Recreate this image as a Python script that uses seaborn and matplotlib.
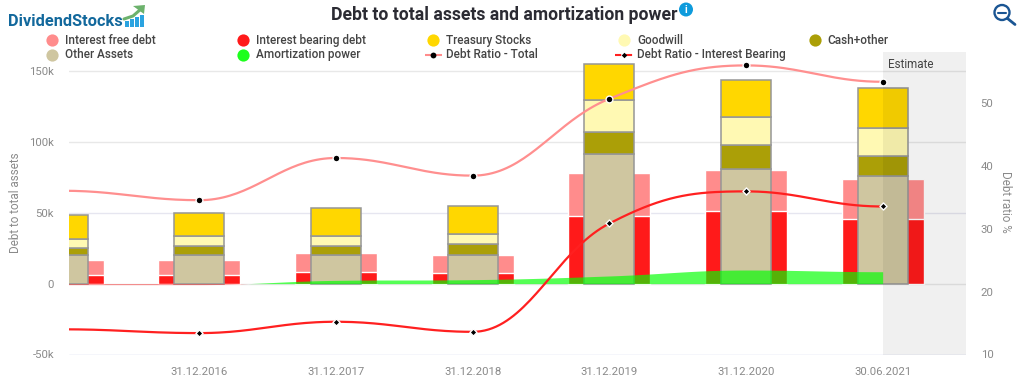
import numpy as np
import seaborn as sns
import matplotlib.pyplot as plt
from matplotlib.lines import Line2D
from matplotlib.patches import Circle, Polygon, Rectangle

dates = ["31.12.2015", "31.12.2016", "31.12.2017", "31.12.2018", "31.12.2019", "31.12.2020", "30.06.2021"]

# all in thousands
interest_free = [10.6, 10.7, 13.8, 13.2, 30.3, 29.1, 27.7]
interest_bearing = [6.3, 6.3, 8.0, 7.2, 47.4, 51.2, 45.8]
other_assets = [20.5, 20.3, 20.0, 20.0, 91.5, 81.0, 75.6]
cash_other = [4.4, 6.4, 6.8, 8.2, 15.8, 16.7, 14.5]
goodwill = [6.6, 7.0, 7.0, 7.0, 22.0, 19.9, 19.9]
treasury = [16.9, 16.2, 19.2, 19.3, 25.7, 26.1, 28.3]
amortization = [-0.7, -0.7, 2.3, 2.8, 5.4, 9.6, 8.4]

# percent
ratio_total = [36.0, 34.5, 41.2, 38.4, 50.6, 55.9, 53.3]
ratio_bearing = [14.0, 13.4, 15.2, 13.6, 30.8, 35.9, 33.5]

left_ticks = [-50, 0, 50, 100, 150]
left_labels = ["-50k", "0", "50k", "100k", "150k"]
right_ticks = [10, 20, 30, 40, 50]

C_FREE = "#ff8c8c"
C_BEARING = "#ff1a1a"
C_TREASURY = "#ffd700"
C_GOODWILL = "#fff9b3"
C_CASH = "#ab9f07"
C_OTHER = "#cfc6a0"
C_GREEN = "#00ff00"
GREY = "#8a8a8a"
XLIM = (0.043, 6.61)


def spline(y, n=40):
    # same bezier recipe the original chart lib uses (smoothing 1.5)
    y = np.asarray(y, dtype=float)
    xs, ys = [], []
    ctrl = []
    for i in range(len(y)):
        if i == 0 or i == len(y) - 1:
            ctrl.append((y[i], y[i]))
            continue
        l = (1.5 * y[i] + y[i - 1]) / 2.5
        r = (1.5 * y[i] + y[i + 1]) / 2.5
        c = (r - l) * 0.4 / 0.8 + y[i] - r
        l, r = l + c, r + c
        if l > max(y[i - 1], y[i]):
            l = max(y[i - 1], y[i])
            r = 2 * y[i] - l
        elif l < min(y[i - 1], y[i]):
            l = min(y[i - 1], y[i])
            r = 2 * y[i] - l
        if r > max(y[i + 1], y[i]):
            r = max(y[i + 1], y[i])
            l = 2 * y[i] - r
        elif r < min(y[i + 1], y[i]):
            r = min(y[i + 1], y[i])
            l = 2 * y[i] - r
        ctrl.append((l, r))
    t = np.linspace(0, 1, n)
    for i in range(len(y) - 1):
        bx = 3 * (1 - t) ** 2 * t * 0.4 + 3 * (1 - t) * t ** 2 * 0.6 + t ** 3
        by = ((1 - t) ** 3 * y[i] + 3 * (1 - t) ** 2 * t * ctrl[i][1]
              + 3 * (1 - t) * t ** 2 * ctrl[i + 1][0] + t ** 3 * y[i + 1])
        xs.append(i + bx)
        ys.append(by)
    return np.concatenate(xs), np.concatenate(ys)


sns.set_theme(style="white")
plt.rcParams["font.family"] = ["Roboto", "DejaVu Sans"]

fig = plt.figure(figsize=(10.24, 3.83), dpi=100)
ax = fig.add_axes([68.5 / 1024, 1 - 354.5 / 383, (966 - 68.5) / 1024, (354.5 - 52) / 383])
pos = np.arange(len(dates))

# debt bars sit behind the asset stack
debt_total = np.array(interest_free) + np.array(interest_bearing)
sns.barplot(x=pos, y=debt_total, native_scale=True, width=0.6, color=C_FREE, saturation=1, errorbar=None, ax=ax)
sns.barplot(x=pos, y=interest_bearing, native_scale=True, width=0.6, color=C_BEARING, saturation=1, errorbar=None, ax=ax)

bottom = np.zeros(len(dates))
for vals, col in [(other_assets, C_OTHER), (cash_other, C_CASH), (goodwill, C_GOODWILL), (treasury, C_TREASURY)]:
    sns.barplot(x=pos, y=vals, bottom=bottom, native_scale=True, width=0.366, color=col, saturation=1,
                errorbar=None, edgecolor="#969696", linewidth=1.1, ax=ax)
    bottom = bottom + np.array(vals)

ax_x, ax_y = spline(amortization)
ax.fill_between(ax_x, 0, ax_y, where=ax_y >= 0, interpolate=True, color=C_GREEN, alpha=0.667, lw=0, zorder=4)
ax.fill_between(ax_x, 0, ax_y, where=ax_y <= 0, interpolate=True, color=C_BEARING, alpha=0.5, lw=0, zorder=4)

ax.set_xlim(*XLIM)
ax.set_ylim(-50, 163.4)
ax.axvspan(6, XLIM[1], color="black", alpha=0.06, lw=0, zorder=5)
ax.set_xticks(pos, dates)
ax.set_yticks(left_ticks, left_labels)
ax.grid(axis="y", color="#e8e8e8", lw=1)
ax.set_axisbelow(True)
ax.get_ygridlines()[0].set_color("#ccd6eb")
ax.get_ygridlines()[2].set_color("#e6e6f0")
ax.tick_params(axis="both", length=0, labelsize=8.2, labelcolor=GREY)
ax.tick_params(axis="x", pad=9)
ax.tick_params(axis="y", pad=10.5)
ax.set_xlabel("")
ax.set_ylabel("")
sns.despine(ax=ax, left=True, bottom=True, top=True, right=True)

ax2 = ax.twinx()
for vals, col, mark, size in [(ratio_total, "#ff8f8f", "o", 24), (ratio_bearing, "#ff2020", "D", 13)]:
    sx, sy = spline(vals)
    sns.lineplot(x=sx, y=sy, color=col, lw=1.6, estimator=None, sort=False, ax=ax2, zorder=3)
    sns.scatterplot(x=pos, y=vals, color="black", marker=mark, s=size, edgecolor="white", linewidth=1.0, ax=ax2,
                    zorder=4)
ax2.set_ylim(10, 58.03)
ax2.set_xlim(*XLIM)
ax2.set_yticks(right_ticks)
ax2.tick_params(axis="y", length=0, labelsize=8.2, labelcolor=GREY, pad=10.5)
ax2.set_ylabel("")
sns.despine(ax=ax2, left=True, bottom=True, top=True, right=True)

# everything outside the plot goes on a pixel overlay
ov = fig.add_axes([0, 0, 1, 1], zorder=10)
ov.set_xlim(0, 1024)
ov.set_ylim(383, 0)
ov.axis("off")
ov.patch.set_alpha(0)

ov.text(504, 15, "Debt to total assets and amortization power", ha="center", va="center",
        fontsize=12.7, fontweight="bold", color="#2b2b33")
ov.add_patch(Circle((686, 9.5), 7, color="#0e9bdc", lw=0))
ov.text(686, 9.7, "i", ha="center", va="center", fontsize=7.5, fontweight="bold", color="white")

ov.text(8, 21, "DividendStocks", ha="left", va="center", fontsize=11.8, fontweight="bold", color="#12689c")
for bx, bh in [(125, 6), (130, 8), (135, 10), (140, 12)]:
    ov.add_patch(Rectangle((bx, 27 - bh), 3.5, bh, color="#2aa3e0", lw=0))
ov.add_line(Line2D([124, 133, 141], [19, 16, 9], color="#6cb26c", lw=2.2))
ov.add_patch(Polygon([[145, 5], [133, 6], [144, 14]], color="#6cb26c", lw=0))

# zoom-out glass
ov.add_patch(Circle((1002, 12.5), 7.5, fill=False, ec="#1a5593", lw=1.7))
ov.add_line(Line2D([998, 1006], [12.5, 12.5], color="#1a5593", lw=1.5))
ov.add_line(Line2D([1007.5, 1015], [18.5, 24.5], color="#1a5593", lw=2))

ov.text(888, 64, "Estimate", ha="left", va="center", fontsize=8.4, color="#444444")
ov.text(16, 203, "Debt to total assets", rotation=90, ha="center", va="center", fontsize=8.4, color=GREY)
ov.text(1006, 202, "Debt ratio %", rotation=270, ha="center", va="center", fontsize=8.4, color=GREY)

legend_dots = [("Interest free debt", C_FREE, 51.7, 40.3), ("Interest bearing debt", C_BEARING, 242.7, 40.3),
               ("Treasury Stocks", C_TREASURY, 433.3, 40.3), ("Goodwill", C_GOODWILL, 624.3, 40.3),
               ("Cash+other", C_CASH, 814.7, 40.3), ("Other Assets", C_OTHER, 51.7, 54.5),
               ("Amortization power", "#1dff1d", 242.7, 54.5)]
for label, col, x, y in legend_dots:
    ov.plot([x], [y], "o", color=col, ms=8.8, mew=0)
    ov.text(x + 13, y, label, ha="left", va="center", fontsize=8.5, fontweight="medium", color="#444444")

ov.add_line(Line2D([425, 442], [54.5, 54.5], color=C_FREE, lw=1.5, ls=(0, (3, 2.2))))
ov.plot([433.3], [54.5], "o", color="black", ms=4.2, mew=0)
ov.text(446.3, 54.5, "Debt Ratio - Total", ha="left", va="center", fontsize=8.5, fontweight="medium", color="#444444")
ov.add_line(Line2D([615, 633], [54.5, 54.5], color="#ff2020", lw=1.5, ls=(0, (3, 2.2))))
ov.plot([624.3], [54.5], "D", color="black", ms=2.8, mew=0)
ov.text(637, 54.5, "Debt Ratio - Interest Bearing", ha="left", va="center", fontsize=8.5, fontweight="medium", color="#444444")

plt.savefig("out.png", dpi=100)
